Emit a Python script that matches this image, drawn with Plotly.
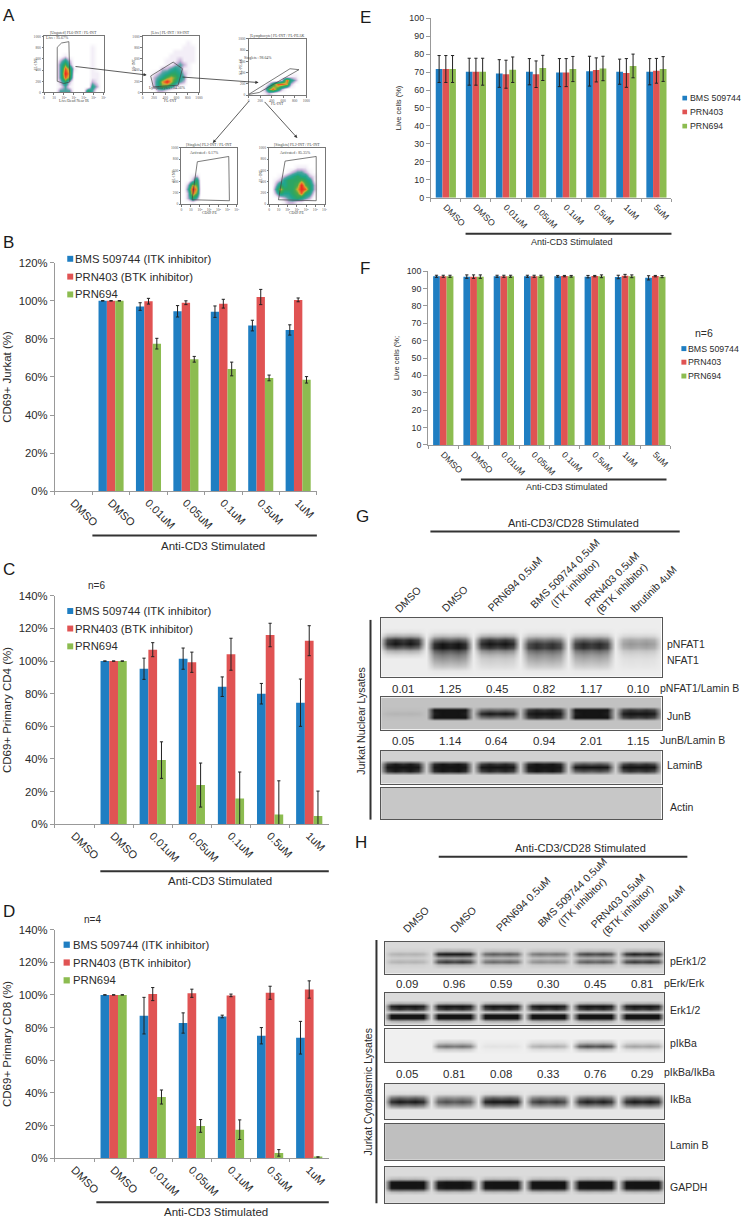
import plotly.graph_objects as go

W, H = 745, 1223
FONT = "Liberation Sans"
BLUE, RED, GREEN = "#1f7ec2", "#e05353", "#8cbc50"
INK = "#2b2b2b"

# ---------- bar chart data ----------
cats7 = ["DMSO", "DMSO ", "0.01uM", "0.05uM", "0.1uM", "0.5uM", "1uM"]
cats8 = ["DMSO", "DMSO ", "0.01uM", "0.05uM", "0.1uM", "0.5uM", "1uM", "5uM"]

b_bms = [None, 100, 97, 94.5, 94.3, 87, 84.7]
b_bms_err = [0, 0.1, 2, 3, 3, 2.8, 2.7]
b_403 = [None, 100, 99.8, 99, 98.5, 102, 100.5]
b_403_err = [0, 0.1, 1.5, 1, 2.3, 4, 1]
b_694 = [None, 100, 77.5, 69.3, 64.2, 59.5, 58.5]
b_694_err = [0, 0.1, 2.8, 1.5, 3.6, 1.5, 1.7]

c_bms = [None, 100, 95.3, 101.5, 84.3, 80, 74.5]
c_bms_err = [0, 0.1, 6.5, 6.5, 6, 6.3, 14.5]
c_403 = [None, 100, 107, 99.3, 104.2, 116, 112.5]
c_403_err = [0, 0.1, 4.3, 6.2, 9.8, 7.2, 9.2]
c_694 = [None, 100, 39.3, 24, 15.8, 6, 5]
c_694_err = [0, 0.1, 11.2, 13.5, 16.2, 20.6, 15.3]

d_bms = [None, 100, 87.3, 82.8, 86.8, 75, 73.8]
d_bms_err = [0, 0.1, 11.2, 6.2, 0.8, 5, 10]
d_403 = [None, 100, 100.5, 101, 99.7, 101.3, 103.3]
d_403_err = [0, 0.1, 4, 2.5, 0.8, 4, 5.3]
d_694 = [None, 100, 37.5, 19.8, 17.5, 3.3, 0.5]
d_694_err = [0, 0.1, 4.3, 3.9, 6, 2, 0.4]

e_bms = [71.7, 70.2, 69.2, 70.2, 69.7, 70.5, 70.2, 70.2]
e_bms_err = [7.5, 7.5, 7.7, 7.3, 7.8, 8.3, 7, 7.3]
e_403 = [71.7, 70.2, 68.8, 68.8, 69.7, 71.2, 69.5, 70.7]
e_403_err = [7.5, 7.5, 7.8, 7.4, 7.8, 6.7, 8, 6.9]
e_694 = [71.7, 70.2, 71.3, 72.3, 71.7, 72, 73.4, 71.7]
e_694_err = [7.5, 7.5, 7.1, 7, 7, 6.8, 6.6, 6.9]

f_bms = [97, 96.8, 97, 97, 97, 96.8, 96.6, 96.1]
f_bms_err = [0.6, 1, 0.6, 0.6, 0.5, 0.7, 1, 1.2]
f_403 = [97, 96.8, 97, 97, 97.1, 97.1, 97.3, 97.1]
f_403_err = [0.6, 1, 0.6, 0.6, 0.4, 0.4, 0.8, 0.4]
f_694 = [97, 96.8, 97, 97, 97, 97, 97, 96.8]
f_694_err = [0.6, 1, 0.6, 0.6, 0.5, 0.8, 0.8, 0.6]

legend_long = ["BMS 509744 (ITK inhibitor)", "PRN403 (BTK inhibitor)", "PRN694"]
legend_short = ["BMS 509744", "PRN403", "PRN694"]

# ---------- western blot data (darkness 0..1 per lane, vertical band profile) ----------
lanes_text_g1 = ["0.01", "1.25", "0.45", "0.82", "1.17", "0.10"]
lanes_text_g2 = ["0.05", "1.14", "0.64", "0.94", "2.01", "1.15"]
lanes_text_h1 = ["0.09", "0.96", "0.59", "0.30", "0.45", "0.81"]
lanes_text_h2 = ["0.05", "0.81", "0.08", "0.33", "0.76", "0.29"]
lane_names = ["DMSO", "DMSO", "PRN694 0.5uM", "BMS 509744 0.5uM<br>(ITK inhibitor)",
              "PRN403 0.5uM<br>(BTK inhibitor)", "Ibrutinib 4uM"]
lane_shape = [0.0, 0.85, 1.0, 0.9, 1.0, 0.85]

pnfat_bands = [
    ([0.85, 0.62, 0.78, 0.52, 0.58, 0.3], [0, 0, 0, 0.05, 0.3, 0.9, 1, 0.7, 0.3, 0.1, 0, 0, 0, 0, 0]),
    ([0, 0.5, 0.2, 0.42, 0.38, 0.08], [0, 0, 0, 0, 0, 0.05, 0.5, 0.9, 0.9, 0.8, 0.7, 0.5, 0.3, 0.05, 0]),
]
junb_bands = [
    ([0.05, 0.75, 0.7, 0.75, 0.75, 0.75], [0, 0, 0, 0.2, 1, 0.2, 0, 0, 0]),
    ([0, 0.7, 0.2, 0.45, 0.75, 0.4], [0, 0, 0, 1, 0, 1, 0, 0, 0]),
]
laminb_bands = [
    ([0.85, 0.85, 0.85, 0.85, 0.85, 0.85], [0, 0, 0, 0.2, 1, 0.2, 0, 0, 0]),
    ([0.55, 0.6, 0.5, 0.6, 0.35, 0.45], [0, 0, 0, 1, 0, 1, 0, 0, 0]),
]
perk_bands = [
    ([0.15, 0.85, 0.5, 0.4, 0.6, 0.75], [0, 0, 0.2, 1, 0.2, 0, 0, 0, 0]),
    ([0.15, 0.65, 0.45, 0.3, 0.5, 0.65], [0, 0, 0, 0, 0.1, 1, 0.2, 0, 0]),
]
erk_bands = [
    ([0.85, 0.85, 0.85, 0.85, 0.85, 0.85], [0, 0, 0, 0.2, 1, 0.8, 0, 0, 0, 0, 0]),
    ([0.95, 0.95, 0.95, 0.95, 0.95, 0.95], [0, 0, 0, 0, 0, 0, 0.1, 1, 1, 0.2, 0]),
]
pikba_bands = [([0, 0.5, 0.05, 0.25, 0.65, 0.3], [0, 0, 0, 0.3, 1, 0.3, 0, 0, 0])]
ikba_bands = [([0.85, 0.6, 0.9, 0.7, 0.8, 0.85], [0, 0, 0.05, 0.6, 1, 0.5, 0, 0, 0])]
gapdh_bands = [([0.95, 0.9, 0.95, 0.95, 0.95, 0.95], [0, 0, 0, 0.15, 0.95, 1, 0.95, 0.15, 0, 0, 0])]

# ---------- flow cytometry density (digits 0..9, top row first) ----------
flow1 = ["0000000000000", "0000000000000", "0000000000100", "0000000000100", "0000100000100",
         "0002420000100", "0003630000100", "0003861000100", "0003970000110", "0003860000110",
         "0002520000210", "0001310000420", "0003330005300"]
flow2 = ["0000000000000", "0000000000100", "0000000001110", "0000000111110", "0000001111110",
         "0000011121110", "0000011232100", "0000223431100", "0012345542100", "0023467643000",
         "0024797532000", "0024654200000", "0002210000000"]
flow3 = ["0000000000000", "0000000000000", "0000000000000", "0000000000000", "0000000000000",
         "0000000000000", "0000000000000", "0000000000000", "0000000001100", "0000000284200",
         "0000258872000", "0002685200000", "0001210000000"]
flow4 = ["0000000000000", "0000000000000", "0000000000000", "0000000000000", "0000000000000",
         "0000000000000", "0012000000000", "0025000000000", "0276000000000", "0397000000000",
         "0286000000000", "0253000000000", "0010000000000"]
flow5 = ["0000000000000", "0000000000000", "0000000000000", "0000000000000", "0000001110000",
         "0000123321000", "0012345442100", "0124555654100", "0254556965200", "0375557985200",
         "0254456854100", "0012345432000", "0001221100000"]
gate1 = ([222, 294, 417, 433, 333, 222, 222], [806, 882, 906, 188, 159, 200, 806])
gate2 = ([141, 541, 706, 629, 188, 141], [294, 541, 424, 129, 100, 294])
gate3 = ([0, 718, 874, 184, 0], [12, 470, 453, 47, 12])
gate4 = ([287, 856, 868, 192, 287], [753, 847, 59, 76, 753])
gate5 = ([287, 850, 850, 168, 287], [765, 847, 59, 76, 765])

FLOW_SCALE = [[0, "#ffffff"], [0.11, "#f3eff7"], [0.22, "#c9b2d8"], [0.33, "#4aa3a0"], [0.44, "#1fa58f"],
              [0.55, "#2ba565"], [0.66, "#4aa94a"], [0.77, "#d8b030"], [0.88, "#ee5a28"], [1, "#e8281e"]]

fig = go.Figure()
layout = {}
annots, shapes = [], []
ax_n = [0]


def new_axes(x0, x1, y0, y1):
    ax_n[0] += 1
    n = ax_n[0]
    sx = "" if n == 1 else str(n)
    layout[f"xaxis{sx}"] = dict(domain=[x0 / W, x1 / W], anchor=f"y{sx}")
    layout[f"yaxis{sx}"] = dict(domain=[1 - y1 / H, 1 - y0 / H], anchor=f"x{sx}")
    return f"x{sx}", f"y{sx}", f"xaxis{sx}", f"yaxis{sx}"


def note(x, y, text, size=10.5, anchor="left", angle=0, color=INK, family=FONT):
    annots.append(dict(x=x / W, y=1 - y / H, xref="paper", yref="paper", text=text, showarrow=False,
                       xanchor=anchor, yanchor="middle", textangle=angle, borderpad=0, borderwidth=0,
                       font=dict(size=size, color=color, family=family)))


def hline(x0, x1, y, width=2, color="#333333"):
    shapes.append(dict(type="line", xref="paper", yref="paper", x0=x0 / W, x1=x1 / W, y0=1 - y / H, y1=1 - y / H,
                       line=dict(color=color, width=width)))


def vline(x, y0, y1, width=2, color="#333333"):
    shapes.append(dict(type="line", xref="paper", yref="paper", x0=x / W, x1=x / W, y0=1 - y0 / H, y1=1 - y1 / H,
                       line=dict(color=color, width=width)))


def swatch(x0, x1, yc, color):
    h = (x1 - x0) / 2
    shapes.append(dict(type="rect", xref="paper", yref="paper", x0=x0 / W, x1=x1 / W, y0=1 - (yc + h) / H,
                       y1=1 - (yc - h) / H, fillcolor=color, line=dict(width=0)))


def bars(box, cats, series, ymax, dtick, suffix, ytitle, tfont, titlefont, standoff):
    xa, ya, xk, yk = new_axes(*box)
    for vals, errs, col, name in series:
        fig.add_trace(go.Bar(x=cats, y=vals, name=name, marker=dict(color=col, line=dict(width=0)),
                             error_y=dict(type="data", array=errs, visible=True, thickness=1, width=1.6, color="#222222"),
                             xaxis=xa, yaxis=ya, showlegend=False))
    layout[xk].update(type="category", categoryorder="array", categoryarray=cats, tickson="boundaries",
                      range=[-0.5, len(cats) - 0.5], tickangle=45, ticks="outside", ticklen=3, tickcolor="#999999",
                      showline=True, linecolor="#999999", linewidth=1, showgrid=False, zeroline=False,
                      tickfont=dict(size=tfont, family=FONT, color=INK))
    layout[yk].update(range=[0, ymax], dtick=dtick, ticksuffix=suffix, ticks="outside", ticklen=4, tickcolor="#999999",
                      showline=True, linecolor="#999999", linewidth=1, showgrid=False, zeroline=False,
                      tickfont=dict(size=tfont + (0.3 if suffix else 0), family=FONT, color=INK),
                      title=dict(text=ytitle, standoff=standoff, font=dict(size=titlefont, family=FONT, color=INK)))


def long_series(a, ae, b, be, c, ce):
    return [(a, ae, BLUE, legend_short[0]), (b, be, RED, legend_short[1]), (c, ce, GREEN, legend_short[2])]


bars((54.3, 318, 259.3, 490), cats7, long_series(b_bms, b_bms_err, b_403, b_403_err, b_694, b_694_err),
     120, 20, "%", "CD69+ Jurkat (%)", 11, 11.5, 4)
bars((54.3, 330, 595.7, 826.3), cats7, long_series(c_bms, c_bms_err, c_403, c_403_err, c_694, c_694_err),
     140, 20, "%", "CD69+ Primary CD4 (%)", 11, 11.5, 4)
bars((54.3, 330, 932.7, 1163.7), cats7, long_series(d_bms, d_bms_err, d_403, d_403_err, d_694, d_694_err),
     140, 20, "%", "CD69+ Primary CD8 (%)", 11, 11.5, 4)
bars((432.7, 675, 12.3, 193.7), cats8, long_series(e_bms, e_bms_err, e_403, e_403_err, e_694, e_694_err),
     100, 10, "", "Live cells (%)", 8.8, 7.5, 6)
bars((430, 674, 267.7, 443.3), cats8, long_series(f_bms, f_bms_err, f_403, f_403_err, f_694, f_694_err),
     100, 10, "", "Live cells (%;", 8.8, 7.5, 6)

# legends, stimulated bars and letters for bar panels
for sx0, sx1, tx, ys, labels, fs in [
    (66.7, 72.7, 75, (255.3, 273.3, 291.3), legend_long, 11.3),
    (66.7, 72.7, 75, (611, 628.7, 646.7), legend_long, 11.3),
    (63, 69.3, 72, (948, 966, 984), legend_long, 11.3),
    (686, 690.7, 693.3, (93, 107, 121.3), legend_short, 8.8),
    (685, 690, 691.7, (346, 359.7, 373.7), legend_short, 8.8),
]:
    for yc, col, lab in zip(ys, (BLUE, RED, GREEN), labels):
        swatch(sx0, sx1, yc, col)
        note(tx, yc, lab, fs)

for x0, x1, y, tx, ty, fs in [
    (92, 318, 534.7, 213, 545, 11.5), (100, 330, 873.7, 220.7, 884, 11.5), (96, 330, 1208, 216, 1217.5, 11.5),
    (467.7, 675, 230, 574.7, 238, 9), (463, 670, 478.3, 570, 486, 9),
]:
    hline(x0, x1, y)
    note(tx, ty, "Anti-CD3 Stimulated", fs, "center")

note(96, 585, "n=6", 10, "center")
note(92, 922.7, "n=4", 10, "center")
note(707.7, 330, "n=6", 10.5, "center")
for lx, ly, letter in [(2, 10, "A"), (2, 239, "B"), (2, 569, "C"), (2, 914, "D"), (361, 12, "E"), (361, 265, "F"),
                       (357, 516, "G"), (356, 845, "H")]:
    note(lx, ly, letter, 17, color="#1a1a1a")


# ---------- blots ----------
def blot(box, bg, bands, xr):
    xa, ya, xk, yk = new_axes(*box)
    rows = len(bands[0][1]) if bands else 3
    xs = [-0.5 + k / 6 for k in range(37)]
    z = []
    for r in range(rows):
        row = []
        for k in range(37):
            l = min(k // 6, 5)
            s = lane_shape[k % 6] if k < 36 else 0
            v = bg
            for lanes, prof in bands:
                v += lanes[l] * prof[r] * s
            row.append(min(v, 0.92))
        z.append(row)
    fig.add_trace(go.Heatmap(z=z, x=xs, y=list(range(rows)), xaxis=xa, yaxis=ya, zmin=0, zmax=1, zsmooth="best",
                             colorscale=[[0, "#ffffff"], [1, "#000000"]], showscale=False, hoverinfo="skip"))
    layout[xk].update(range=xr, showticklabels=False, ticks="", showgrid=False, zeroline=False, showline=True,
                      mirror=True, linecolor="#555555", linewidth=1)
    layout[yk].update(range=[rows - 0.5, -0.5], showticklabels=False, ticks="", showgrid=False, zeroline=False,
                      showline=True, mirror=True, linecolor="#555555", linewidth=1)


xg = [-0.456, 5.49]
blot((382.7, 665, 617.7, 677.3), 0.07, pnfat_bands, xg)
blot((382.7, 665, 698.3, 730.7), 0.24, junb_bands, xg)
blot((382.7, 665, 752.3, 785.3), 0.18, laminb_bands, xg)
blot((382.7, 665, 789.3, 821.3), 0.22, [], xg)
xh = [-0.47, 5.465]
blot((386.7, 667.3, 945, 977.3), 0.15, perk_bands, xh)
blot((386.7, 667.3, 996.7, 1029), 0.14, erk_bands, xh)
blot((386.7, 667.3, 1033.3, 1066.7), 0.06, pikba_bands, xh)
blot((386.7, 667.3, 1088.3, 1124.3), 0.1, ikba_bands, xh)
blot((386.7, 667.3, 1129, 1165.3), 0.25, [], xh)
blot((386.7, 667.3, 1172.3, 1209), 0.14, gapdh_bands, xh)

g_lane_x = [404.3, 452.3, 499.3, 546.7, 594.3, 641.7]
h_lane_x = [409, 456, 503.3, 550.7, 598.3, 645.3]
for x, t1, t2 in zip(g_lane_x, lanes_text_g1, lanes_text_g2):
    note(x, 689.3, t1, 11.5, "center")
    note(x, 742.7, t2, 11.5, "center")
for x, t1, t2 in zip(h_lane_x, lanes_text_h1, lanes_text_h2):
    note(x, 987.3, t1, 11.5, "center")
    note(x, 1078.3, t2, 11.5, "center")

for (x, y), name in zip([(410, 599), (457.3, 598.3), (517, 583.7), (572.7, 577.3), (619.7, 584), (656.7, 589)], lane_names):
    note(x, y, name, 10.5, "center", -45)
for (x, y), name in zip([(418, 922), (465.3, 921.7), (525.3, 906.7), (580.3, 900.3), (626.7, 908.3), (665.3, 911)], lane_names):
    note(x, y, name, 10.5, "center", -45)

for x, y, t in [(671, 644, "pNFAT1"), (671, 660, "NFAT1"), (663.3, 688.7, "pNFAT1/Lamin B"), (671, 717, "JunB"),
                (663.3, 741.3, "JunB/Lamin B"), (671, 766.7, "LaminB"), (673.3, 808.7, "Actin"),
                (673.3, 964.7, "pErk1/2"), (667.3, 986.7, "pErk/Erk"), (673.3, 1014.3, "Erk1/2"),
                (673.3, 1047.7, "pIkBa"), (667.3, 1077, "pIkBa/IkBa"), (673.3, 1104, "IkBa"),
                (673.3, 1150.3, "Lamin B"), (673.3, 1192.7, "GAPDH")]:
    note(x, y, t, 10.5)

vline(372, 620, 821.7)
note(362.7, 722.5, "Jurkat Nuclear Lysates", 10.6, "center", -90)
vline(378, 943.3, 1209)
note(369, 1096.7, "Jurkat Cytoplasmic Lysates", 10.5, "center", -90)
hline(432.3, 683.3, 530.7)
note(576, 522.3, "Anti-CD3/CD28 Stimulated", 11, "center")
hline(440.7, 691, 859.3)
note(583.3, 850, "Anti-CD3/CD28 Stimulated", 11, "center")


# ---------- flow plots ----------
def flow(box, rows, gate, title, xlab, ylab, gate_label, gate_xy, log_x):
    xa, ya, xk, yk = new_axes(*box)
    z = [[int(c) for c in r] for r in rows]
    n = len(z[0])
    xs = [(i + 0.5) * 1000 / n for i in range(n)]
    ys = [1000 - (i + 0.5) * 1000 / len(z) for i in range(len(z))]
    fig.add_trace(go.Heatmap(z=z, x=xs, y=ys, xaxis=xa, yaxis=ya, zmin=0, zmax=9, zsmooth="best",
                             colorscale=FLOW_SCALE, showscale=False, hoverinfo="skip"))
    fig.add_trace(go.Scatter(x=gate[0], y=gate[1], mode="lines", line=dict(color="#444444", width=0.7),
                             xaxis=xa, yaxis=ya, showlegend=False, hoverinfo="skip"))
    base = dict(range=[0, 1000], showgrid=False, zeroline=False, showline=True, mirror=True, linecolor="#777777",
                linewidth=1, ticks="outside", ticklen=1.5, tickwidth=0.6, tickcolor="#777777",
                tickfont=dict(size=3.6, family="Liberation Serif", color="#555555"))
    layout[xk].update(base)
    layout[yk].update(base, tickvals=[0, 200, 400, 600, 800, 1000])
    if log_x:
        layout[xk].update(tickvals=[0, 167, 333, 500, 667, 833, 1000], ticktext=["0", "10", "10²", "10³", "10⁴", "10⁵", "10⁶"])
    else:
        layout[xk].update(tickvals=[0, 200, 400, 600, 800, 1000])
    x0, x1, y0, y1 = box
    note((x0 + x1) / 2, y0 - 3, title, 3.9, "center", color="#444444", family="Liberation Serif")
    note((x0 + x1) / 2, y1 + 9, xlab, 3.9, "center", color="#444444", family="Liberation Serif")
    note(x0 - 8, (y0 + y1) / 2, ylab, 3.9, "center", -90, color="#444444", family="Liberation Serif")
    note(gate_xy[0], gate_xy[1], gate_label, 3.9, "center", color="#444444", family="Liberation Serif")


flow((43.3, 103.3, 30.7, 87.3), flow1, gate1, "[Ungated] FL6-INT / FL-INT", "Live/Dead Near IR", "FL-INT", "Live : 95.67%", (56.5, 32.5), True)
flow((142.7, 199.3, 30.7, 87.3), flow2, gate2, "[Live] FL-INT / SS-INT", "FL-INT", "SS-INT", "Lymphocytes : 54.56%", (168, 82.5), False)
flow((249.3, 307.3, 33.3, 90), flow3, gate3, "[Lymphocyte] FL-INT / FL-PEAK", "FL-INT", "FL-PEAK", "Singlets : 98.64%", (259, 52.5), False)
flow((181.7, 237.3, 143.3, 200), flow4, gate4, "[Singlets] FL2-INT / FL-INT", "CD69 PE", "FL-INT", "Activated : 0.17%", (205, 148.5), True)
flow((270, 325.7, 143.3, 200), flow5, gate5, "[Singlets] FL2-INT / FL-INT", "CD69 PE", "FL-INT", "Activated : 85.35%", (296, 148.5), True)

for x0, y0, x1, y1 in [(74, 61, 146.7, 69.7), (181.7, 71.7, 259.3, 77.3), (250.7, 95, 213.3, 138.3), (264.3, 95.7, 298.3, 133.3)]:
    annots.append(dict(x=x1 / W, y=1 - y1 / H, ax=x0 - x1, ay=y0 - y1, xref="paper", yref="paper", axref="pixel",
                       ayref="pixel", text="", showarrow=True, arrowhead=2, arrowsize=0.8, arrowwidth=0.8,
                       arrowcolor="#333333"))

fig.update_layout(width=W, height=H, autosize=False, margin=dict(l=0, r=0, t=0, b=0), paper_bgcolor="white",
                  plot_bgcolor="white", barmode="group", bargap=0.33, bargroupgap=0, showlegend=False,
                  annotations=annots, shapes=shapes, font=dict(family=FONT), **layout)
fig.write_html("out.html", config={"displayModeBar": False},
               post_script="document.body.style.margin='0';document.documentElement.style.overflow='hidden';")
